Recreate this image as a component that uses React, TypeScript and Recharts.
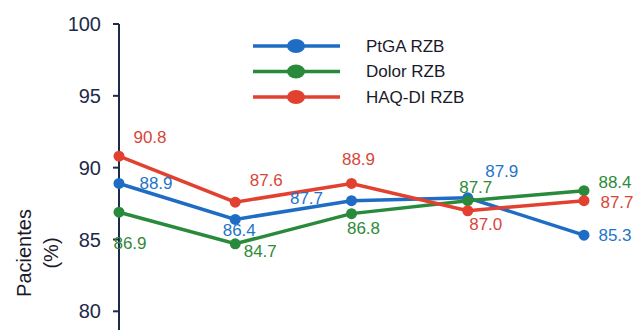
import React from 'react';
import { LineChart, Line, XAxis, YAxis, Legend, LabelList, Label } from 'recharts';

const categories = ['T1', 'T2', 'T3', 'T4', 'T5'];
const ptgaValues = [88.9, 86.4, 87.7, 87.9, 85.3];
const dolorValues = [86.9, 84.7, 86.8, 87.7, 88.4];
const haqValues = [90.8, 87.6, 88.9, 87.0, 87.7];
const yTicks = [80, 85, 90, 95, 100];
const seriesNames = ['PtGA RZB', 'Dolor RZB', 'HAQ-DI RZB'];

const data = categories.map((c, i) => ({
  name: c,
  ptga: ptgaValues[i],
  dolor: dolorValues[i],
  haq: haqValues[i],
}));

const FONT = "Arial, 'Liberation Sans', sans-serif";
const BLUE = '#1f6cc4';
const GREEN = '#2a8a3c';
const RED = '#e2412f';
const BLUE_T = '#1f74c9';
const GREEN_T = '#2f8a3a';
const RED_T = '#d8463a';
const AXIS = '#1e2a4a';

// label offsets (dx, dy) relative to the point, per series
const blueOff = [[37, 0], [4, 11], [-45, -2], [34, -26], [31, 0]];
const greenOff = [[11, 31], [25, 8], [12, 15], [8, -13], [31, -8]];
const redOff = [[31, -19], [31, -22], [7, -24], [18, 14], [33, 2]];

const makeLabel = (offs: number[][], color: string) => (props: any) => {
  const { x, y, value, index } = props;
  const [dx, dy] = offs[index] || [0, 0];
  return (
    <text
      x={x + dx}
      y={y + dy}
      textAnchor="middle"
      dominantBaseline="central"
      fill={color}
      fontSize={17}
      fontFamily={FONT}
    >
      {Number(value).toFixed(1)}
    </text>
  );
};

const LegendContent = () => {
  const colors = [BLUE, GREEN, RED];
  return (
    <svg width={260} height={80} style={{ overflow: 'visible', display: 'block' }}>
      {seriesNames.map((n, i) => {
        const cy = 12 + i * 25.5;
        return (
          <g key={n}>
            <line x1={3} x2={90} y1={cy} y2={cy} stroke={colors[i]} strokeWidth={3.5} />
            <ellipse cx={46} cy={cy} rx={9} ry={7} fill={colors[i]} />
            <text x={116} y={cy} dominantBaseline="central" fontSize={17} fontFamily={FONT} fill="#1a1a2a">
              {n}
            </text>
          </g>
        );
      })}
    </svg>
  );
};

const YLabel = () => {
  const cy = 253;
  return (
    <g>
      <text x={24} y={cy} transform={`rotate(-90, 24, ${cy})`} textAnchor="middle" dominantBaseline="central" fontSize={20} fontFamily={FONT} fill="#1a1a2a">
        Pacientes
      </text>
      <text x={51} y={cy} transform={`rotate(-90, 51, ${cy})`} textAnchor="middle" dominantBaseline="central" fontSize={20} fontFamily={FONT} fill="#1a1a2a">
        (%)
      </text>
    </g>
  );
};

export default function App() {
  return (
    <div style={{ position: 'absolute', left: 0, top: 0, width: 642, height: 330, background: '#fff', overflow: 'hidden' }}>
      <LineChart width={642} height={330} data={data} margin={{ top: 24, right: 58, left: 0, bottom: 0 }}>
        <XAxis dataKey="name" hide />
        <YAxis
          width={119}
          domain={[78.7, 100]}
          ticks={yTicks}
          allowDataOverflow
          axisLine={{ stroke: AXIS, strokeWidth: 2 }}
          tickLine={{ stroke: AXIS, strokeWidth: 2 }}
          tickSize={6}
          tickMargin={12}
          tick={{ fill: AXIS, fontSize: 20, fontFamily: FONT }}
        >
          <Label content={<YLabel />} />
        </YAxis>
        <Legend
          content={<LegendContent />}
          wrapperStyle={{ position: 'absolute', left: 250, top: 34, width: 0, height: 0, overflow: 'visible' }}
        />
        <Line dataKey="ptga" name={seriesNames[0]} stroke={BLUE} strokeWidth={3.5} dot={{ r: 5.5, fill: BLUE, stroke: BLUE, strokeWidth: 0 }} isAnimationActive={false}>
          <LabelList dataKey="ptga" content={makeLabel(blueOff, BLUE_T)} />
        </Line>
        <Line dataKey="dolor" name={seriesNames[1]} stroke={GREEN} strokeWidth={3.5} dot={{ r: 5.5, fill: GREEN, stroke: GREEN, strokeWidth: 0 }} isAnimationActive={false}>
          <LabelList dataKey="dolor" content={makeLabel(greenOff, GREEN_T)} />
        </Line>
        <Line dataKey="haq" name={seriesNames[2]} stroke={RED} strokeWidth={3.5} dot={{ r: 5.5, fill: RED, stroke: RED, strokeWidth: 0 }} isAnimationActive={false}>
          <LabelList dataKey="haq" content={makeLabel(redOff, RED_T)} />
        </Line>
      </LineChart>
    </div>
  );
}
